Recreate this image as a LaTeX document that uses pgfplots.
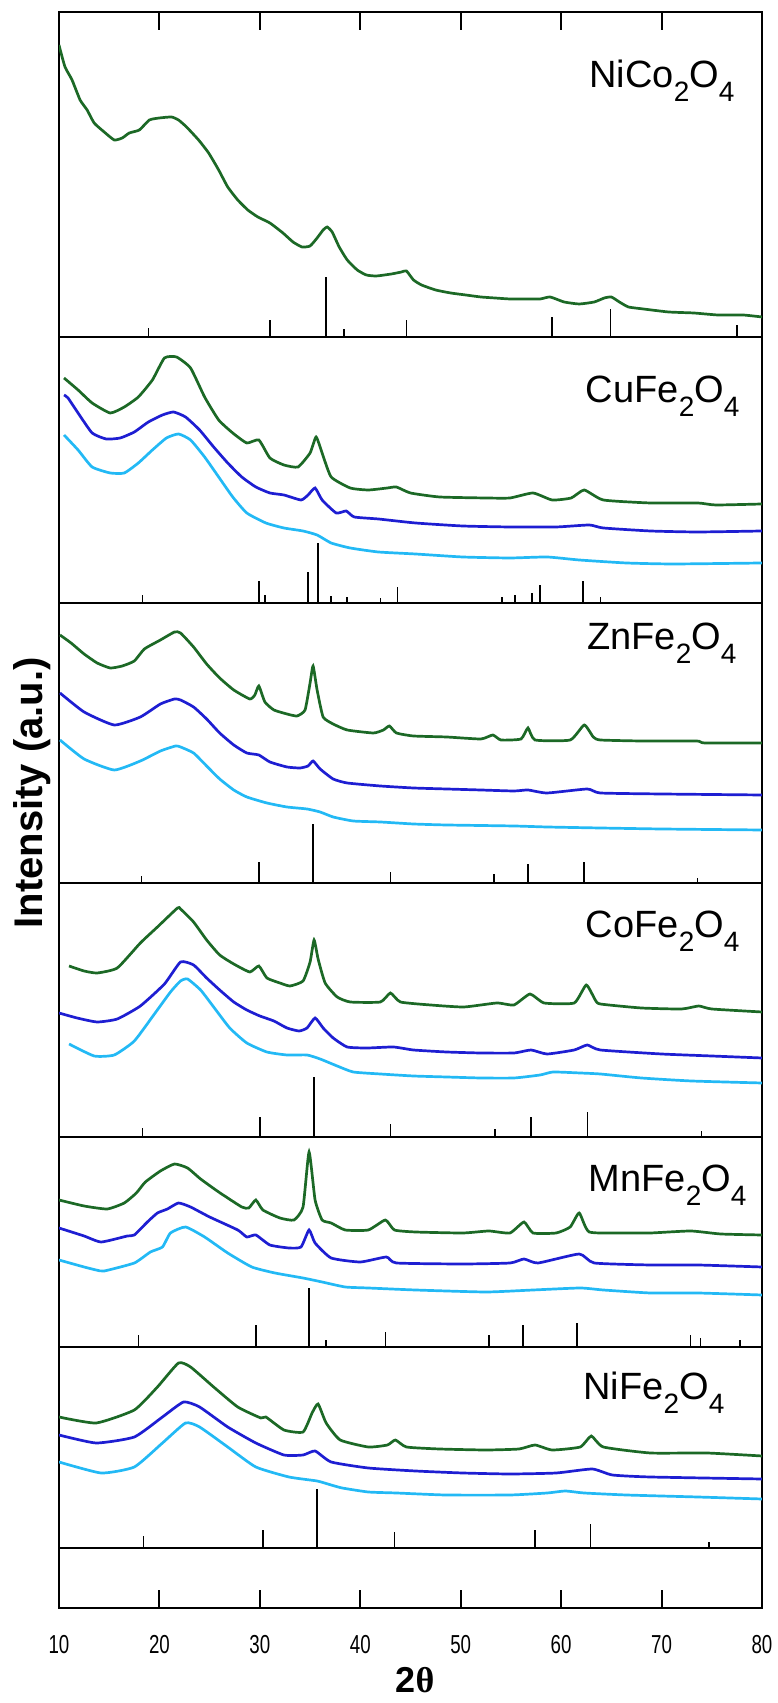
\documentclass[border=0pt]{standalone}
\usepackage{pgfplots}
\pgfplotsset{compat=1.18}
\usepackage{fontspec}
\setmainfont{Liberation Sans}
\newfontfamily\narrowfont[FakeStretch=0.72]{Liberation Sans}
\newfontfamily\greekserif{Liberation Serif}
\definecolor{cg}{RGB}{28,105,38}
\definecolor{cb}{RGB}{30,30,210}
\definecolor{cc}{RGB}{35,185,245}
\newcommand{\sub}[1]{\raisebox{-0.36em}{\fontsize{14}{14}\selectfont #1}}
\newcommand{\lab}{\fontsize{19}{19}\selectfont}
\tikzset{nl/.style={anchor=base east, inner sep=0pt, font=\lab}}
\pgfplotsset{
  panel/.style={scale only axis, width=351.5pt, xmin=10, xmax=80, ymin=0,
    xtick=\empty, ytick=\empty, anchor=south west,
    axis line style={line width=1pt, black}},
  g/.style={cg, line width=1.35pt, no marks, smooth, tension=0.3},
  b/.style={cb, line width=1.35pt, no marks, smooth, tension=0.3},
  c/.style={cc, line width=1.35pt, no marks, smooth, tension=0.3},
  st/.style={ycomb, black, line width=0.75pt, no marks},
}
\begin{document}
\begin{tikzpicture}
\useasboundingbox (0,0) rectangle (388.5pt,851.5pt);
% ---------- NiCo2O4 ----------
\begin{axis}[panel, at={(29.5pt,683pt)}, height=162.5pt, ymax=325,
  xtick={20,30,40,50,60,70}, xticklabels={}, xtick pos=right, tick align=inside,
  major tick length=9pt, tick style={line width=1pt, black}]
\addplot[st] coordinates {(18.9,9) (31.0,17) (36.6,60) (38.4,8) (44.6,17) (59.1,20) (64.9,28) (77.5,12)};
\addplot[g] coordinates {
(10.0,292) (10.1,288) (10.6,270) (11.3,257) (12.1,237) (12.8,227) (13.5,214) (14.5,205) (15.5,197) (16.3,199)
(17.0,204) (18.0,207) (19.0,217) (20.0,219) (21.2,220) (21.9,217) (22.7,210) (23.9,197) (24.9,184) (25.9,167)
(26.8,150) (27.8,137) (28.8,127) (29.8,120) (31.0,114) (32.3,104) (33.3,95) (34.2,90) (35.0,91) (35.7,99)
(36.3,107) (36.7,110) (37.2,105) (37.9,90) (38.7,77) (39.7,67) (40.6,62) (41.6,61) (43.1,63) (44.1,65)
(44.6,66) (45.3,57) (46.1,52) (47.5,47) (49.0,44) (50.5,42) (52.0,40) (53.4,39) (54.9,38) (56.4,38)
(57.9,38) (58.9,40) (60.3,35) (61.8,33) (63.3,35) (64.3,39) (65.0,40) (65.8,35) (66.7,30) (68.2,28)
(70.7,25) (73.2,24) (75.6,22) (78.1,22) (80.0,20)};
\node[nl] at (axis cs:77.3,249) {NiCo\sub{2}O\sub{4}};
\end{axis}
% ---------- CuFe2O4 ----------
\begin{axis}[panel, at={(29.5pt,550pt)}, height=133pt, ymax=266]
\addplot[st] coordinates {(18.3,8) (29.9,22) (30.5,8) (34.8,31) (35.8,60) (37.1,7) (38.7,6) (42.0,5) (43.7,16) (54.1,6) (55.4,8) (57.1,10) (57.9,18) (62.2,22) (63.9,6)};
\addplot[c] coordinates {
(10.5,168) (11.9,153) (13.3,136) (15.1,130) (16.5,130) (17.9,140) (19.3,153) (20.7,165) (21.9,169) (23.1,163)
(24.5,146) (25.9,126) (27.3,106) (28.7,90) (30.6,80) (32.4,75) (34.3,72) (35.7,68) (37.1,60) (39.0,55)
(41.8,51) (45.5,49) (50.2,46) (54.9,45) (58.6,46) (61.8,43) (66.5,40) (71.2,39) (80.0,40)};
\addplot[b] coordinates {
(10.5,208) (10.9,205) (11.9,190) (13.3,170) (14.7,164) (16.1,165) (17.5,171) (18.9,181) (20.3,188) (21.4,191)
(22.6,186) (24.0,173) (25.4,156) (26.8,140) (28.2,126) (29.6,116) (31.0,110) (32.4,108) (34.1,103) (34.8,108)
(35.5,115) (36.2,103) (37.6,90) (38.6,92) (39.4,86) (41.8,84) (45.5,80) (50.2,77) (54.9,76) (59.5,76)
(62.8,78) (64.2,75) (68.9,72) (73.6,71) (80.0,72)};
\addplot[g] coordinates {
(10.5,225) (11.9,213) (13.3,200) (15.1,190) (16.5,196) (17.9,206) (19.3,223) (20.5,245) (21.7,246) (23.1,235)
(24.5,206) (25.9,183) (27.3,170) (28.7,160) (29.9,163) (31.0,145) (32.4,138) (33.8,136) (35.0,150) (35.6,166)
(36.2,150) (37.1,126) (39.0,115) (40.8,113) (42.7,115) (43.6,116) (45.0,110) (47.9,106) (52.5,105) (54.9,105)
(57.2,110) (59.1,103) (61.0,105) (62.3,113) (64.2,103) (68.9,100) (73.6,100) (75.4,98) (80.0,99)};
\node[nl] at (axis cs:77.8,200) {CuFe\sub{2}O\sub{4}};
\end{axis}
% ---------- ZnFe2O4 ----------
\begin{axis}[panel, at={(29.5pt,410pt)}, height=140pt, ymax=280]
\addplot[st] coordinates {(18.2,7) (29.9,21) (35.3,59) (43.0,11) (53.3,9) (56.7,19) (62.3,21) (73.6,5)};
\addplot[c] coordinates {
(10.1,143) (12.5,124) (15.5,113) (18.1,122) (20.1,132) (21.6,137) (22.1,136) (23.4,130) (24.7,117) (26.0,104)
(27.4,93) (28.7,86) (30.7,80) (32.7,76) (34.7,74) (36.0,71) (37.3,66) (39.3,62) (42.0,61) (45.3,59)
(48.6,58) (55.3,57) (58.6,56) (63.9,55) (70.0,54) (80.0,53)};
\addplot[b] coordinates {
(10.1,190) (12.5,171) (15.5,158) (18.1,166) (20.1,179) (21.5,184) (22.1,183) (23.4,176) (24.7,164) (26.0,150)
(27.4,138) (28.7,130) (29.9,128) (31.0,121) (32.7,116) (34.0,115) (34.8,117) (35.3,122) (36.0,114) (37.3,104)
(38.7,100) (42.0,97) (45.3,95) (48.6,94) (52.0,93) (55.3,92) (56.7,93) (58.6,90) (62.6,94) (63.9,90)
(70.0,89) (80.0,88)};
\addplot[g] coordinates {
(10.1,248) (11.2,240) (12.5,229) (13.8,220) (15.1,215) (16.3,217) (17.5,222) (18.5,234) (20.1,243) (21.5,251)
(22.1,250) (23.4,236) (24.7,219) (26.0,205) (27.4,193) (29.0,184) (29.5,188) (29.9,197) (30.5,181) (31.4,173)
(32.7,169) (33.7,167) (34.5,173) (35.0,200) (35.3,217) (35.7,193) (36.3,166) (37.3,159) (38.7,153) (41.3,150)
(42.3,153) (42.9,157) (43.6,150) (45.3,147) (48.6,146) (52.0,144) (53.2,148) (54.0,143) (56.0,144) (56.7,155)
(57.4,143) (60.9,143) (62.3,158) (63.2,146) (63.9,143) (68.0,142) (73.5,142) (74.3,140) (80.0,140)};
\node[nl] at (axis cs:77.5,233) {ZnFe\sub{2}O\sub{4}};
\end{axis}
% ---------- CoFe2O4 ----------
\begin{axis}[panel, at={(29.5pt,283pt)}, height=127pt, ymax=254]
\addplot[st] coordinates {(18.3,9) (30.0,20) (35.4,60) (43.0,13) (53.4,8) (57.0,20) (62.6,25) (74.0,6)};
\addplot[c] coordinates {
(11.0,93) (13.5,81) (15.5,82) (17.5,96) (19.5,123) (21.1,145) (22.1,156) (22.8,158) (24.1,147) (25.4,130)
(27.0,109) (28.7,94) (30.7,85) (32.7,82) (34.7,82) (36.0,78) (37.7,71) (39.3,65) (42.0,63) (45.3,61)
(48.6,60) (52.0,59) (55.3,59) (57.9,62) (59.2,65) (61.9,64) (63.9,63) (68.0,59) (73.0,56) (80.0,54)};
\addplot[b] coordinates {
(10.0,124) (11.8,119) (13.8,115) (15.8,118) (18.1,131) (20.5,153) (22.1,175) (23.4,172) (24.7,159) (26.0,147)
(27.4,135) (28.7,127) (30.0,121) (31.4,116) (32.7,109) (33.9,106) (34.7,109) (35.5,119) (36.3,109) (37.3,99)
(38.7,90) (40.7,89) (43.3,90) (45.3,87) (48.6,85) (52.0,84) (55.3,84) (57.0,87) (58.6,83) (61.3,87)
(62.6,92) (63.9,87) (70.0,83) (75.0,81) (80.0,79)};
\addplot[g] coordinates {
(11.0,171) (12.5,166) (13.8,164) (15.8,169) (18.1,194) (19.8,210) (21.8,229) (22.1,228) (23.4,215) (24.7,197)
(26.0,182) (27.4,173) (29.0,165) (29.9,171) (30.7,159) (32.0,154) (33.0,151) (34.3,156) (35.0,175) (35.4,197)
(35.8,178) (36.5,154) (37.7,140) (39.0,135) (42.0,135) (43.0,144) (44.0,135) (47.0,132) (50.3,130) (53.6,134)
(55.3,132) (56.9,143) (58.3,134) (61.3,134) (62.5,152) (63.4,137) (63.9,133) (68.0,129) (72.0,128) (73.7,131)
(75.0,128) (80.0,125)};
\node[nl] at (axis cs:77.8,199) {CoFe\sub{2}O\sub{4}};
\end{axis}
% ---------- MnFe2O4 ----------
\begin{axis}[panel, at={(29.5pt,178pt)}, height=105pt, ymax=210]
\addplot[st] coordinates {(17.9,12) (29.6,22) (34.9,59) (36.6,7) (42.5,15) (52.8,12) (56.2,22) (61.6,24) (72.9,12) (73.9,9) (77.8,7)};
\addplot[c] coordinates {
(10.0,87) (12.5,80) (13.7,77) (14.5,76) (17.5,84) (19.1,95) (20.3,100) (21.1,114) (22.6,120) (24.5,110)
(26.8,94) (29.2,80) (31.5,74) (34.3,69) (36.2,65) (38.5,60) (40.8,59) (45.5,57) (52.5,55) (57.2,57)
(61.9,59) (64.2,57) (68.9,54) (73.6,54) (80.0,52)};
\addplot[b] coordinates {
(10.0,119) (12.5,111) (14.2,105) (16.8,111) (17.5,112) (18.8,125) (19.8,134) (20.8,138) (21.9,144) (23.1,140)
(25.0,130) (27.8,117) (28.7,110) (29.6,112) (31.0,102) (32.9,99) (34.1,100) (34.9,117) (35.5,104) (37.1,89)
(40.0,85) (42.6,90) (43.6,84) (50.2,83) (54.9,84) (56.3,88) (57.7,84) (61.8,93) (63.3,84) (68.9,82)
(73.6,82) (80.0,80)};
\addplot[g] coordinates {
(10.0,147) (12.5,141) (14.8,138) (16.5,144) (17.7,154) (18.6,165) (20.1,176) (21.5,183) (22.8,179) (24.1,168)
(25.9,155) (28.2,140) (28.9,139) (29.6,147) (30.3,137) (32.0,129) (33.4,127) (34.3,140) (34.9,195) (35.5,147)
(36.2,127) (37.1,124) (38.5,117) (40.8,117) (42.5,127) (43.4,117) (45.5,115) (50.2,114) (52.8,116) (54.9,114)
(56.3,125) (57.2,114) (59.5,114) (60.9,120) (61.8,134) (62.8,115) (66.5,114) (68.9,114) (72.9,116) (75.9,113)
(80.0,112)};
\node[nl] at (axis cs:78.5,155) {MnFe\sub{2}O\sub{4}};
\end{axis}
% ---------- NiFe2O4 ----------
\begin{axis}[panel, at={(29.5pt,77.5pt)}, height=100.5pt, ymax=201]
\addplot[st] coordinates {(18.4,12) (30.3,18) (35.7,59) (43.4,16) (57.4,18) (62.9,24) (74.7,6)};
\addplot[c] coordinates {
(10.0,86) (14.2,75) (17.5,81) (20.3,105) (22.6,125) (24.0,121) (26.8,101) (29.6,81) (32.9,71) (35.7,67)
(37.1,63) (38.2,60) (40.8,56) (43.6,55) (48.5,53) (54.9,53) (58.6,55) (60.4,57) (62.3,55) (66.5,53)
(73.6,51) (80.0,49)};
\addplot[b] coordinates {
(10.0,113) (13.7,105) (17.5,111) (20.3,131) (22.4,146) (24.0,141) (26.8,121) (29.6,105) (32.4,93) (34.3,93)
(35.5,97) (37.1,86) (40.8,80) (45.5,77) (50.2,75) (54.9,74) (59.5,75) (63.1,79) (65.1,73) (68.9,71)
(80.0,69)};
\addplot[g] coordinates {
(10.0,131) (13.7,125) (17.5,138) (19.8,161) (21.9,185) (23.1,181) (25.4,161) (27.8,141) (30.1,130) (30.6,131)
(32.4,118) (34.3,116) (35.2,135) (35.8,144) (36.6,125) (38.0,108) (40.8,101) (42.7,103) (43.5,108) (44.6,101)
(47.9,99) (52.5,98) (55.8,99) (57.4,103) (59.1,98) (61.9,101) (63.0,112) (64.2,101) (68.9,95) (74.5,95)
(80.0,92)};
\node[nl] at (axis cs:76.3,148) {NiFe\sub{2}O\sub{4}};
\end{axis}
% ---------- bottom band with x axis ----------
\begin{axis}[panel, at={(29.5pt,47.5pt)}, height=30pt, ymax=60,
  xtick={10,20,30,40,50,60,70,80}, xticklabels={10,20,30,40,50,60,70,80},
  xtick pos=left, tick align=inside, major tick length=9pt,
  tick style={line width=1pt, black},
  /pgf/number format/assume math mode=true,
  xticklabel style={font=\narrowfont\fontsize{13}{13}\selectfont, yshift=-10pt}]
\addplot[draw=none] coordinates {(10,0) (80,0)};
\end{axis}
\node[rotate=90, font=\bfseries\fontsize{20}{20}\selectfont] at (16pt,455pt) {Intensity (a.u.)};
\node[font=\bfseries\fontsize{18}{18}\selectfont] at (207.5pt,11.5pt) {2{\greekserif\bfseries θ}};
\end{tikzpicture}
\end{document}
